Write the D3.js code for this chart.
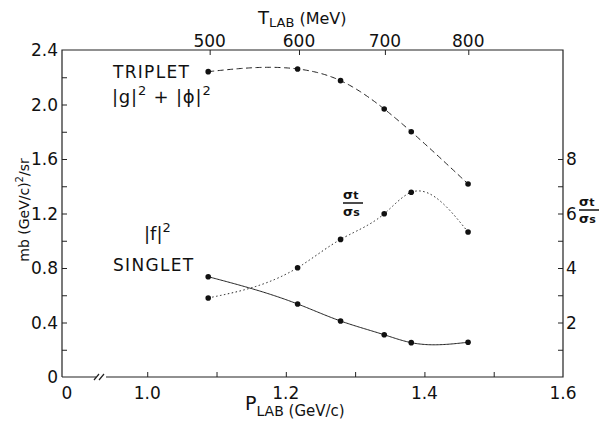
<!DOCTYPE html>
<html>
<head>
<meta charset="utf-8">
<script src="https://cdn.jsdelivr.net/npm/d3@7"></script>
<style>
  body { margin: 0; background: #fff; }
  svg { display: block; }
  text { font-family: "DejaVu Sans", sans-serif; fill: #111; }
</style>
</head>
<body>
<div id="chart"></div>
<script>
// values
const plab = [1.088, 1.217, 1.279, 1.342, 1.381, 1.463];       // GeV/c
const triplet = [2.241, 2.261, 2.175, 1.967, 1.800, 1.417];     // |g|^2 + |phi|^2
const singlet = [0.736, 0.536, 0.411, 0.310, 0.252, 0.255];     // |f|^2
const ratio = [2.90, 4.01, 5.05, 5.99, 6.78, 5.32];             // sigma_t / sigma_s (right axis)

const leftTicks = [0, 0.4, 0.8, 1.2, 1.6, 2.0, 2.4];
const rightTicks = [2, 4, 6, 8];
const bottomTicks = [1.0, 1.2, 1.4, 1.6];
const topTicks = [500, 600, 700, 800];   // T_LAB in MeV

const width = 599, height = 426;
const margin = { left: 62, right: 36, top: 50, bottom: 49 };

// proton kinetic energy (MeV) -> lab momentum (GeV/c)
const mp = 938.3;
const tToP = t => Math.sqrt(t * t + 2 * t * mp) / 1000;

// natural cubic spline y(x) through the points, used to draw the smooth curves
function naturalSpline(xs, ys) {
  const n = xs.length;
  const h = d3.range(n - 1).map(i => xs[i + 1] - xs[i]);
  const a = new Array(n).fill(0), b = new Array(n).fill(1), c = new Array(n).fill(0), r = new Array(n).fill(0);
  for (let i = 1; i < n - 1; i++) {
    a[i] = h[i - 1];
    b[i] = 2 * (h[i - 1] + h[i]);
    c[i] = h[i];
    r[i] = 6 * ((ys[i + 1] - ys[i]) / h[i] - (ys[i] - ys[i - 1]) / h[i - 1]);
  }
  // tridiagonal solve, M[0] = M[n-1] = 0
  const cp = new Array(n).fill(0), rp = new Array(n).fill(0);
  for (let i = 1; i < n - 1; i++) {
    const m = b[i] - a[i] * cp[i - 1];
    cp[i] = c[i] / m;
    rp[i] = (r[i] - a[i] * rp[i - 1]) / m;
  }
  const M = new Array(n).fill(0);
  for (let i = n - 2; i >= 1; i--) M[i] = rp[i] - cp[i] * M[i + 1];
  return t => {
    let i = Math.min(n - 2, Math.max(0, d3.bisectRight(xs, t) - 1));
    const u = xs[i + 1] - t, v = t - xs[i], hi = h[i];
    return M[i] * u * u * u / (6 * hi) + M[i + 1] * v * v * v / (6 * hi)
      + (ys[i] / hi - M[i] * hi / 6) * u + (ys[i + 1] / hi - M[i + 1] * hi / 6) * v;
  };
}

const x = d3.scaleLinear().domain([0.877, 1.6]).range([margin.left, width - margin.right]);
const y = d3.scaleLinear().domain([0, 2.4]).range([height - margin.bottom, margin.top]);
const yR = d3.scaleLinear().domain([0, 12]).range([height - margin.bottom, margin.top]);

const svg = d3.select('#chart').append('svg')
  .attr('width', width)
  .attr('height', height);

const x0 = x.range()[0], x1 = x.range()[1];
const yb = y.range()[0], yt = y.range()[1];

// frame (bottom axis has a break near the origin)
const frame = svg.append('g').attr('stroke', '#222').attr('stroke-width', 1.2).attr('fill', 'none');
frame.append('path').attr('d', `M${x0},${yb}V${yt}H${x1}V${yb}H106`);
frame.append('path').attr('d', `M${x0},${yb}H96`);
frame.append('path').attr('d', `M94,${yb + 3}L99,${yb - 3}M99,${yb + 3}L104,${yb - 3}`);

// left axis: ticks point inward
const leftAxis = svg.append('g').attr('transform', `translate(${x0},0)`)
  .call(d3.axisRight(y).tickValues(d3.range(0.2, 2.4, 0.2)).tickSize(5).tickFormat(''));
leftAxis.select('.domain').remove();
leftAxis.selectAll('line').attr('stroke', '#222');
svg.append('g').selectAll('text').data(leftTicks).join('text')
  .attr('x', x0 - 4)
  .attr('y', d => y(d) + 6)
  .attr('text-anchor', 'end')
  .attr('font-size', 17)
  .text(d => d === 0 ? '0' : d.toFixed(1));

// right axis (sigma ratio)
const rightAxis = svg.append('g').attr('transform', `translate(${x1},0)`)
  .call(d3.axisLeft(yR).tickValues(d3.range(1, 9, 1)).tickSize(5).tickFormat(''));
rightAxis.select('.domain').remove();
rightAxis.selectAll('line').attr('stroke', '#222');
svg.append('g').selectAll('text').data(rightTicks).join('text')
  .attr('x', x1 + 3)
  .attr('y', d => yR(d) + 6)
  .attr('font-size', 17)
  .text(d => d);

// bottom axis
const bottomAxis = svg.append('g').attr('transform', `translate(0,${yb})`)
  .call(d3.axisTop(x).tickValues([1.0, 1.1, 1.2, 1.3, 1.4, 1.5]).tickSize(5).tickFormat(''));
bottomAxis.select('.domain').remove();
bottomAxis.selectAll('line').attr('stroke', '#222');
svg.append('g').selectAll('text').data(bottomTicks).join('text')
  .attr('x', d => x(d))
  .attr('y', yb + 22)
  .attr('text-anchor', 'middle')
  .attr('font-size', 17)
  .text(d => d.toFixed(1));
svg.append('text').attr('x', x0 + 5).attr('y', yb + 22).attr('text-anchor', 'middle')
  .attr('font-size', 17).text('0');

// top axis (T_LAB)
const topAxis = svg.append('g').attr('transform', `translate(0,${yt})`)
  .call(d3.axisBottom(x).tickValues(topTicks.map(tToP)).tickSize(5).tickFormat(''));
topAxis.select('.domain').remove();
topAxis.selectAll('line').attr('stroke', '#222');
svg.append('g').selectAll('text').data(topTicks).join('text')
  .attr('x', d => x(tToP(d)))
  .attr('y', yt - 3)
  .attr('text-anchor', 'middle')
  .attr('font-size', 17)
  .text(d => d);

// axis titles
const tTitle = svg.append('text').attr('x', 258).attr('y', 24).attr('font-size', 18);
tTitle.append('tspan').text('T');
tTitle.append('tspan').attr('font-size', 13).attr('dy', 3).text('LAB');
tTitle.append('tspan').attr('font-size', 16).attr('dy', -3).text(' (MeV)');

const pTitle = svg.append('text').attr('x', 245).attr('y', 410).attr('font-size', 19);
pTitle.append('tspan').text('P');
pTitle.append('tspan').attr('font-size', 14).attr('dy', 6).text('LAB');
pTitle.append('tspan').attr('font-size', 15).attr('dy', 0).text(' (GeV/c)');

const yTitle = svg.append('text')
  .attr('transform', 'translate(29,210) rotate(-90)')
  .attr('text-anchor', 'middle')
  .attr('font-size', 14);
yTitle.append('tspan').text('mb (GeV/c)');
yTitle.append('tspan').attr('font-size', 10).attr('dy', -6).text('2');
yTitle.append('tspan').attr('dy', 6).text('/sr');

// curves
const series = [
  { vals: triplet, scale: y, dash: '6,3.5' },
  { vals: singlet, scale: y, dash: null },
  { vals: ratio, scale: yR, dash: '1.5,2.5' }
];

series.forEach(s => {
  const pts = plab.map((p, i) => [p, s.vals[i]]);
  const f = naturalSpline(plab, s.vals);
  const xs = d3.range(plab[0], plab[plab.length - 1], 0.002).concat([plab[plab.length - 1]]);
  const line = d3.line()
    .x(d => x(d))
    .y(d => s.scale(f(d)));
  svg.append('path')
    .datum(xs)
    .attr('d', line)
    .attr('fill', 'none')
    .attr('stroke', '#222')
    .attr('stroke-width', 1)
    .attr('stroke-dasharray', s.dash);
  svg.append('g').selectAll('circle').data(pts).join('circle')
    .attr('cx', d => x(d[0]))
    .attr('cy', d => s.scale(d[1]))
    .attr('r', 2.8)
    .attr('fill', '#111');
});

// labels in the plot
svg.append('text').attr('x', 113).attr('y', 78).attr('font-size', 17)
  .attr('letter-spacing', 1.3).text('TRIPLET');
const gphi = svg.append('text').attr('x', 112).attr('y', 103).attr('font-size', 18)
  .attr('letter-spacing', 0.8);
gphi.append('tspan').text('|g|');
gphi.append('tspan').attr('font-size', 13).attr('dy', -8).text('2');
gphi.append('tspan').attr('dy', 8).text(' + |ϕ|');
gphi.append('tspan').attr('font-size', 13).attr('dy', -8).text('2');

const f2 = svg.append('text').attr('x', 144).attr('y', 240).attr('font-size', 18);
f2.append('tspan').text('|f|');
f2.append('tspan').attr('font-size', 13).attr('dy', -8).text('2');
svg.append('text').attr('x', 113).attr('y', 271).attr('font-size', 17)
  .attr('letter-spacing', 1.3).text('SINGLET');

// sigma_t / sigma_s fraction
function fraction(gx, gy) {
  const g = svg.append('g').attr('transform', `translate(${gx},${gy})`);
  const num = g.append('text').attr('x', 0).attr('y', -4).attr('font-size', 13).attr('font-weight', 'bold');
  num.append('tspan').text('σ');
  num.append('tspan').attr('font-size', 11).text('t');
  g.append('line').attr('x1', 0).attr('x2', 20).attr('y1', 0).attr('y2', 0)
    .attr('stroke', '#111').attr('stroke-width', 1.5);
  const den = g.append('text').attr('x', 0).attr('y', 13).attr('font-size', 13).attr('font-weight', 'bold');
  den.append('tspan').text('σ');
  den.append('tspan').attr('font-size', 11).text('s');
}
fraction(343, 203);
fraction(579, 210);
</script>
</body>
</html>
